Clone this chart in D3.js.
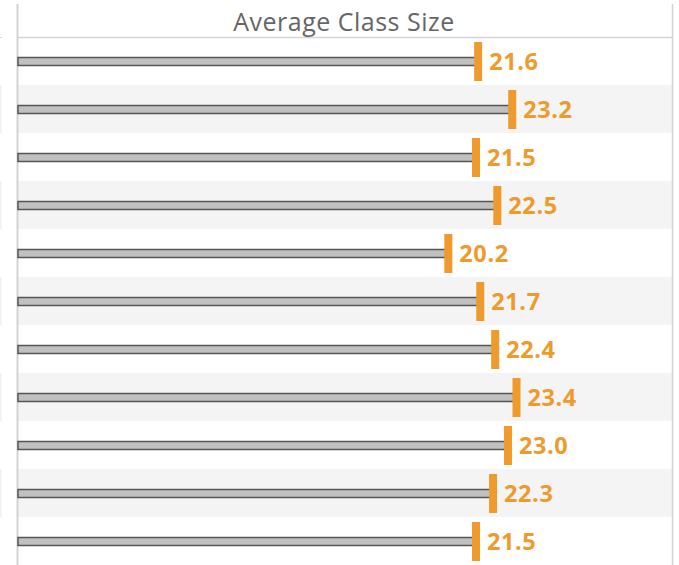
<!DOCTYPE html>
<html>
<head>
<meta charset="utf-8">
<script src="https://cdn.jsdelivr.net/npm/d3@7"></script>
<style>
  html, body { margin: 0; padding: 0; background: #fff; }
  svg { display: block; }
</style>
</head>
<body>
<svg id="chart" width="679" height="565"></svg>
<script>
const title = "Average Class Size";
const categories = ["Row 1","Row 2","Row 3","Row 4","Row 5","Row 6","Row 7","Row 8","Row 9","Row 10","Row 11"];
const values = [21.6, 23.2, 21.5, 22.5, 20.2, 21.7, 22.4, 23.4, 23.0, 22.3, 21.5];
const xDomain = [0, 30.7];

(function () {
const svg = d3.select("#chart");
const W = 679, H = 565;
const mLeft = 18, mRight = 672, mTop = 37;

const x = d3.scaleLinear().domain(xDomain).range([mLeft, mRight]);
const y = d3.scaleBand().domain(categories).range([mTop, mTop + 48 * categories.length]).padding(0);

const orange = "#ef9a2c";

// row bands
svg.selectAll("rect.band").data(categories.filter((d, i) => i % 2 === 1)).enter()
  .append("rect").attr("class", "band")
  .attr("x", mLeft).attr("width", mRight - mLeft)
  .attr("y", d => y(d)).attr("height", y.bandwidth())
  .attr("fill", "#f4f4f4");

// faint bands of neighbouring pane at far left
svg.selectAll("rect.band2").data(categories.filter((d, i) => i % 2 === 1)).enter()
  .append("rect").attr("class", "band2")
  .attr("x", 0).attr("width", 1.5)
  .attr("y", d => y(d)).attr("height", y.bandwidth())
  .attr("fill", "#efefef");
svg.append("line").attr("x1", 0).attr("x2", 2).attr("y1", mTop + 0.5).attr("y2", mTop + 0.5)
  .attr("stroke", "#d6d6d6").attr("stroke-width", 1);

// header line
svg.append("line").attr("x1", mLeft).attr("x2", mRight).attr("y1", mTop + 0.5).attr("y2", mTop + 0.5)
  .attr("stroke", "#d4d4d4").attr("stroke-width", 1.5);

// axis lines
svg.append("line").attr("x1", mLeft - 0.5).attr("x2", mLeft - 0.5).attr("y1", 4).attr("y2", H)
  .attr("stroke", "#d3d3d3").attr("stroke-width", 2);
svg.append("line").attr("x1", mRight + 0.5).attr("x2", mRight + 0.5).attr("y1", 4).attr("y2", H)
  .attr("stroke", "#d3d3d3").attr("stroke-width", 1.5);

// title
svg.append("text").attr("x", 344).attr("y", 31)
  .attr("text-anchor", "middle")
  .attr("font-family", "'Open Sans', sans-serif")
  .attr("font-size", 25)
  .attr("letter-spacing", 0.5)
  .attr("fill", "#666")
  .text(title);

// bars
const g = svg.append("g");
g.selectAll("rect.bar").data(values).enter()
  .append("rect").attr("class", "bar")
  .attr("x", x(0))
  .attr("width", d => x(d) - x(0))
  .attr("y", (d, i) => y(categories[i]) + y.bandwidth() / 2 - 3.5)
  .attr("height", 8)
  .attr("fill", "#c0c0c0")
  .attr("stroke", "#555")
  .attr("stroke-width", 1.5);

// markers
g.selectAll("rect.mark").data(values).enter()
  .append("rect").attr("class", "mark")
  .attr("x", d => x(d) - 4)
  .attr("width", 8)
  .attr("y", (d, i) => y(categories[i]) + 5)
  .attr("height", 39)
  .attr("fill", orange);

// labels
g.selectAll("text.lab").data(values).enter()
  .append("text").attr("class", "lab")
  .attr("x", d => x(d) + 11)
  .attr("y", (d, i) => y(categories[i]) + y.bandwidth() / 2 + 8.5)
  .attr("font-family", "'Open Sans', sans-serif")
  .attr("font-weight", "bold")
  .attr("font-size", 23.5)
  .attr("letter-spacing", 0.6)
  .attr("fill", orange)
  .text(d => d.toFixed(1));
})();
</script>
</body>
</html>
